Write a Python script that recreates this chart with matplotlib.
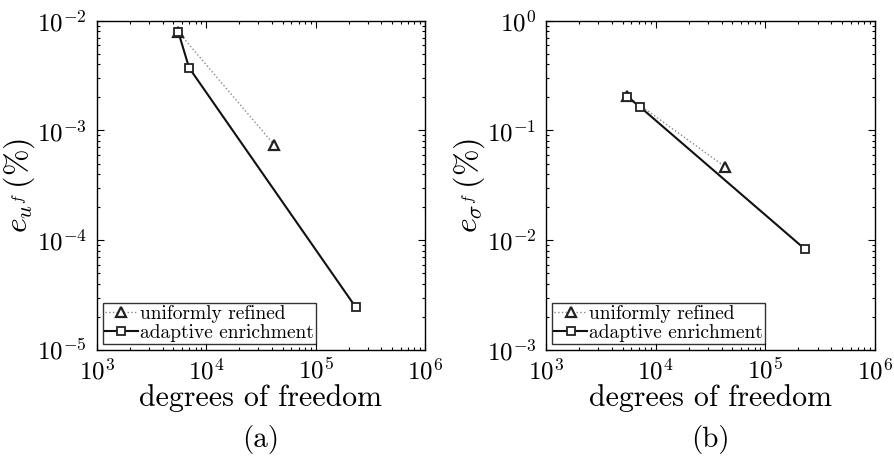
import matplotlib
matplotlib.use("Agg")
import matplotlib.pyplot as plt
from matplotlib.ticker import LogLocator, NullFormatter

plt.rcParams.update({
    "font.family": "cmr10",
    "mathtext.fontset": "cm",
    "axes.formatter.use_mathtext": True,
    "axes.unicode_minus": False,
})

# Panel (a): displacement error
dof_uniform_a = [5570, 41900]
err_uniform_a = [7.9e-3, 7.4e-4]
dof_adapt_a = [5570, 6980, 233000]
err_adapt_a = [7.9e-3, 3.73e-3, 2.45e-5]

# Panel (b): stress error
dof_uniform_b = [5510, 42800]
err_uniform_b = [0.206, 0.0468]
dof_adapt_b = [5510, 7150, 229600]
err_adapt_b = [0.203, 0.165, 0.0083]

labels = ["uniformly refined", "adaptive enrichment"]

fig = plt.figure(figsize=(8.95, 4.57), dpi=100)
W, H = 895, 457
ax_a = fig.add_axes([96.7 / W, 1 - 350 / H, 328.3 / W, 329.3 / H])
ax_b = fig.add_axes([546 / W, 1 - 350 / H, 329 / W, 329.3 / H])


def draw(ax, xu, yu, xa, ya, ylim, ylabel, caption):
    ax.plot(xu, yu, linestyle=":", color="#888888", linewidth=1.0,
            marker="^", markersize=7, markerfacecolor="white",
            markeredgecolor="#222222", markeredgewidth=1.6, label=labels[0])
    ax.plot(xa, ya, linestyle="-", color="#111111", linewidth=1.5,
            marker="s", markersize=6, markerfacecolor="white",
            markeredgecolor="#222222", markeredgewidth=1.3, label=labels[1])
    ax.set_xscale("log")
    ax.set_yscale("log")
    ax.set_xlim(1e3, 1e6)
    ax.set_ylim(*ylim)
    ax.xaxis.set_major_locator(LogLocator(base=10, numticks=10))
    ax.yaxis.set_major_locator(LogLocator(base=10, numticks=10))
    ax.xaxis.set_minor_locator(LogLocator(base=10, subs=range(2, 10), numticks=20))
    ax.yaxis.set_minor_locator(LogLocator(base=10, subs=range(2, 10), numticks=20))
    ax.xaxis.set_minor_formatter(NullFormatter())
    ax.yaxis.set_minor_formatter(NullFormatter())
    ax.tick_params(which="both", direction="in", top=True, right=True,
                   labelsize=18, width=0.8)
    ax.tick_params(axis="x", which="major", length=5, pad=6)
    ax.tick_params(axis="y", which="major", length=5, pad=7)
    ax.tick_params(which="minor", length=2.5)
    for s in ax.spines.values():
        s.set_linewidth(1.0)
    ax.set_xlabel("degrees of freedom", fontsize=21.5, labelpad=0)
    ax.set_ylabel(ylabel, fontsize=23, labelpad=0)
    leg = ax.legend(loc="lower left", fontsize=14, frameon=True, fancybox=False,
                    borderaxespad=0.3, borderpad=0.12, handlelength=1.7,
                    handletextpad=0.1, labelspacing=0.05)
    leg.get_frame().set_edgecolor("black")
    leg.get_frame().set_linewidth(1.0)
    ax.text(0.5, -0.272, caption, transform=ax.transAxes, ha="center",
            va="center", fontsize=21)


draw(ax_a, dof_uniform_a, err_uniform_a, dof_adapt_a, err_adapt_a,
     (1e-5, 1e-2), r"$e_{u^f}\,(\%)$", "(a)")
draw(ax_b, dof_uniform_b, err_uniform_b, dof_adapt_b, err_adapt_b,
     (1e-3, 1e0), r"$e_{\sigma^f}\,(\%)$", "(b)")

fig.savefig("out.png", dpi=100)
